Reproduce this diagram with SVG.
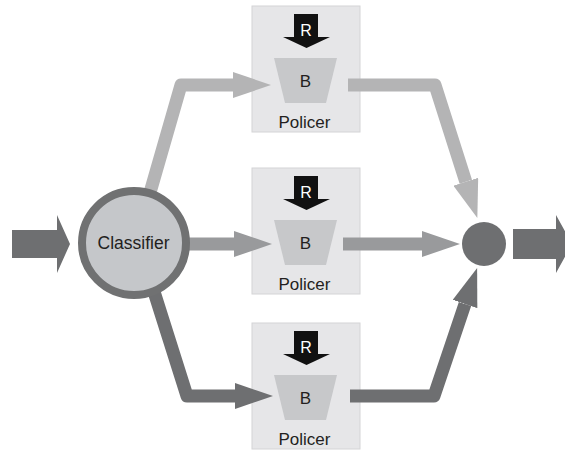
<svg xmlns="http://www.w3.org/2000/svg" width="565" height="450" viewBox="0 0 565 450">
  <style>
    .box { fill: #e6e6e8; stroke: #d4d4d6; stroke-width: 1; }
    .bucket { fill: #c7c8ca; }
    .rate { fill: #111111; }
    .lbl { font-family: "Liberation Sans", Arial, sans-serif; text-anchor: middle; fill: #231f20; }
    .rlbl { font-family: "Liberation Sans", Arial, sans-serif; text-anchor: middle; fill: #ffffff; font-size: 16px; }
    .flow { fill: none; stroke-width: 13; stroke-linejoin: round; }
    .light { stroke: #b4b4b5; }
    .mid { stroke: #999a9c; }
    .dark { stroke: #6e6f71; }
    .bigarrow { fill: #6e6f71; }
  </style>
  <defs>
    <marker id="head-light" viewBox="0 -13 38 26" refX="0" refY="0" markerWidth="38" markerHeight="26" markerUnits="userSpaceOnUse" orient="auto">
      <polygon points="0,-13 38,0 0,13" fill="#b4b4b5"/>
    </marker>
    <marker id="head-mid" viewBox="0 -13 38 26" refX="0" refY="0" markerWidth="38" markerHeight="26" markerUnits="userSpaceOnUse" orient="auto">
      <polygon points="0,-13 38,0 0,13" fill="#999a9c"/>
    </marker>
    <marker id="head-dark" viewBox="0 -13 38 26" refX="0" refY="0" markerWidth="38" markerHeight="26" markerUnits="userSpaceOnUse" orient="auto">
      <polygon points="0,-13 38,0 0,13" fill="#6e6f71"/>
    </marker>
    <!-- one policer: token rate arrow, bucket, caption; origin at box top-left -->
    <g id="policer-shape">
      <rect class="box" x="0" y="0" width="108" height="126"/>
      <rect class="rate" x="42" y="8" width="24" height="24"/>
      <polygon class="rate" points="31,31 78,31 54.5,42"/>
      <text class="rlbl" x="54" y="30">R</text>
      <polygon class="bucket" points="22,52 85,52 74,97 33,97"/>
      <text class="lbl" x="53.5" y="81" font-size="17">B</text>
      <text class="lbl" x="52.5" y="122" font-size="17">Policer</text>
    </g>
  </defs>

  <!-- incoming traffic -->
  <g id="input">
    <polygon class="bigarrow" points="12,230 57,230 57,215 70,244 57,273 57,258 12,258"/>
  </g>

  <!-- policers -->
  <g id="policer-1"><use href="#policer-shape" x="252" y="6"/></g>
  <g id="policer-2"><use href="#policer-shape" x="252" y="168"/></g>
  <g id="policer-3"><use href="#policer-shape" x="252" y="323"/></g>

  <!-- connectors -->
  <g id="connectors">
    <path class="flow light" d="M145,210 L181,85 L233,85" marker-end="url(#head-light)"/>
    <path class="flow mid" d="M150,244 L234,244" marker-end="url(#head-mid)"/>
    <path class="flow dark" d="M144,260 L187,396 L235,396" marker-end="url(#head-dark)"/>
    <path class="flow light" d="M348,85 L435,85 L465.8,181.7" marker-end="url(#head-light)"/>
    <path class="flow mid" d="M343,244 L422,244" marker-end="url(#head-mid)"/>
    <path class="flow dark" d="M350,396 L434,396 L465,304" marker-end="url(#head-dark)"/>
  </g>

  <!-- classifier -->
  <g id="classifier">
    <circle cx="134" cy="243" r="52" fill="#c5c7ca" stroke="#707172" stroke-width="8"/>
    <text class="lbl" x="133.5" y="249" font-size="17.5">Classifier</text>
  </g>

  <!-- merge point -->
  <g id="merge">
    <circle cx="484" cy="244" r="22" fill="#6e6f71"/>
  </g>

  <!-- outgoing traffic -->
  <g id="output">
    <polygon class="bigarrow" points="513,229 556,229 556,215 572,244 556,273 556,259 513,259"/>
  </g>
</svg>
